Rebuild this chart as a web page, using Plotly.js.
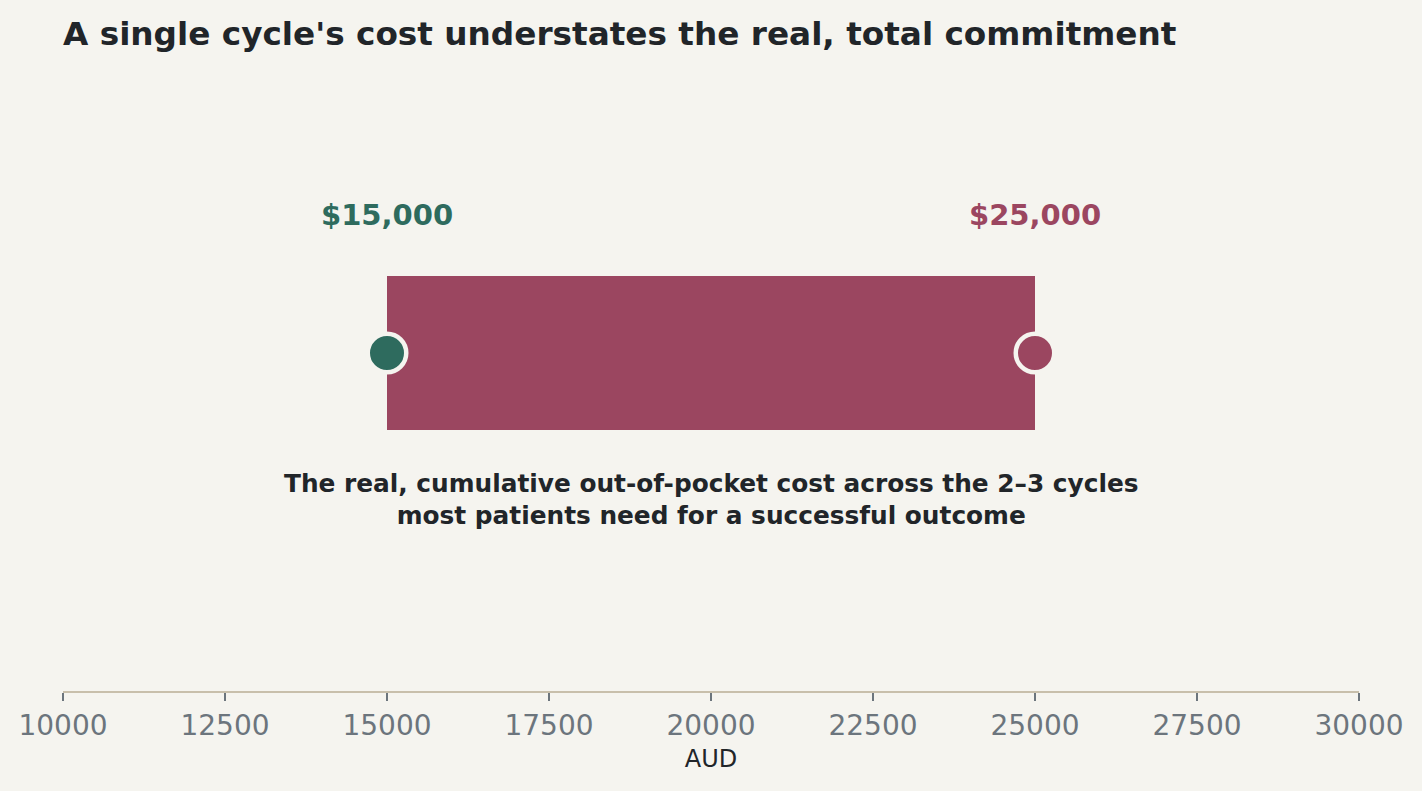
<!DOCTYPE html>
<html>
<head>
<meta charset="utf-8">
<script src="https://cdn.plot.ly/plotly-3.0.1.min.js"></script>
<style>
  html, body { margin: 0; padding: 0; background: #f5f4ef; }
  #chart { width: 1422px; height: 791px; }
</style>
</head>
<body>
<div id="chart"></div>
<script>
// values
const singleCycle = 15000;    // one IVF cycle, out of pocket
const totalCost = 25000;      // across the 2-3 cycles most patients need
const rowY = [0];
const xTicks = [10000, 12500, 15000, 17500, 20000, 22500, 25000, 27500, 30000];

const GREEN = '#2e6b5e';
const PLUM = '#9b4660';
const INK = '#212529';
const BG = '#f5f4ef';

function money(v) {
    return '$' + v.toLocaleString('en-US');
}

const traces = [
    {
        // the span from single cycle to real total
        type: 'bar',
        orientation: 'h',
        y: rowY,
        x: [totalCost - singleCycle],
        base: [singleCycle],
        width: 0.564,
        marker: { color: PLUM, line: { width: 0 } },
        hoverinfo: 'skip'
    },
    {
        type: 'scatter',
        mode: 'markers',
        x: [singleCycle, totalCost],
        y: [rowY[0], rowY[0]],
        marker: {
            size: 38.5,
            color: [GREEN, PLUM],
            line: { color: BG, width: 4.5 }
        },
        hoverinfo: 'skip'
    }
];

const layout = {
    width: 1422,
    height: 791,
    paper_bgcolor: BG,
    plot_bgcolor: BG,
    showlegend: false,
    margin: { l: 63, r: 63, t: 80, b: 100 },
    font: { family: 'DejaVu Sans, sans-serif', color: INK },
    title: {
        text: "<b>A single cycle's cost understates the real, total commitment</b>",
        font: { size: 32.7, color: INK },
        x: 63 / 1422,
        xanchor: 'left',
        xref: 'container',
        y: 1 - 34 / 791,
        yanchor: 'middle',
        yref: 'container'
    },
    xaxis: {
        range: [10000, 30000],
        tickvals: xTicks,
        ticktext: xTicks.map(String),
        showgrid: false,
        zeroline: false,
        showline: true,
        linecolor: '#c8bfab',
        linewidth: 2,
        ticks: 'outside',
        ticklen: 8,
        tickwidth: 2,
        tickcolor: '#6c757d',
        tickfont: { size: 28, color: '#6c757d' },
        title: { text: 'AUD', font: { size: 24, color: INK }, standoff: 10 },
        fixedrange: true
    },
    yaxis: {
        range: [-1.238, 1],
        visible: false,
        fixedrange: true
    },
    annotations: [
        {
            x: singleCycle, y: 0.505, xref: 'x', yref: 'y',
            text: '<b>' + money(singleCycle) + '</b>',
            showarrow: false,
            font: { size: 29, color: GREEN }
        },
        {
            x: totalCost, y: 0.505, xref: 'x', yref: 'y',
            text: '<b>' + money(totalCost) + '</b>',
            showarrow: false,
            font: { size: 29, color: PLUM }
        },
        {
            x: (singleCycle + totalCost) / 2, y: -0.535, xref: 'x', yref: 'y',
            text: '<b>The real, cumulative out-of-pocket cost across the 2–3 cycles<br>most patients need for a successful outcome</b>',
            showarrow: false,
            align: 'center',
            font: { size: 24.8, color: INK }
        }
    ]
};

Plotly.newPlot('chart', traces, layout, { displayModeBar: false, staticPlot: true });
</script>
</body>
</html>
